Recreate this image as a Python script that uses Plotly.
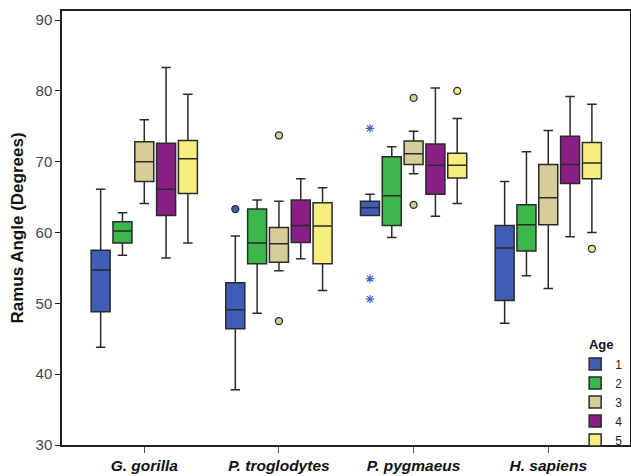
import plotly.graph_objects as go

species = ["G. gorilla", "P. troglodytes", "P. pygmaeus", "H. sapiens"]
ages = ["1", "2", "3", "4", "5"]
colors = ["#3F5CB6", "#3CB74B", "#D7CD98", "#891E85", "#F6EF7D"]

# per age: values per species (G. gorilla, P. troglodytes, P. pygmaeus, H. sapiens)
lowerfence = [[43.8, 37.8, 62.4, 47.2],
              [56.8, 48.6, 59.3, 53.9],
              [64.1, 54.6, 68.3, 52.1],
              [56.4, 56.3, 62.3, 59.4],
              [58.5, 51.8, 64.1, 60.0]]
q1 = [[48.8, 46.4, 62.4, 50.4],
      [58.5, 55.6, 61.0, 57.4],
      [67.2, 55.8, 69.6, 61.1],
      [62.4, 58.6, 65.4, 66.9],
      [65.5, 55.6, 67.7, 67.6]]
median = [[54.7, 49.1, 63.5, 57.8],
          [60.2, 58.5, 65.2, 61.1],
          [70.0, 58.4, 71.1, 64.9],
          [66.1, 61.0, 69.5, 69.6],
          [70.4, 60.9, 69.5, 69.8]]
q3 = [[57.5, 52.9, 64.4, 61.0],
      [61.5, 63.3, 70.7, 63.9],
      [72.8, 60.7, 72.9, 69.6],
      [72.6, 64.6, 72.5, 73.6],
      [73.0, 64.2, 71.2, 72.7]]
upperfence = [[66.1, 59.5, 65.4, 67.2],
              [62.8, 64.6, 72.1, 71.4],
              [75.9, 64.4, 74.3, 74.4],
              [83.3, 67.6, 80.4, 79.2],
              [79.5, 66.3, 76.1, 78.1]]

# outliers: (age index, species index, value)
outlier_age = [0, 2, 2, 2, 2, 4, 4]
outlier_species = [1, 1, 1, 2, 2, 2, 3]
outlier_value = [63.3, 73.7, 47.5, 79.0, 63.9, 80.0, 57.7]
# extreme values (stars)
extreme_age = [0, 0, 0]
extreme_species = [2, 2, 2]
extreme_value = [74.7, 53.5, 50.6]

step = 0.162
bw = 0.141

def pos(a, s):
    return s + (a - 2) * step

fig = go.Figure()
for a, name in enumerate(ages):
    fig.add_trace(go.Box(
        x=[pos(a, s) for s in range(len(species))],
        q1=q1[a], median=median[a], q3=q3[a],
        lowerfence=lowerfence[a], upperfence=upperfence[a],
        width=bw, whiskerwidth=0.5,
        fillcolor=colors[a], line=dict(color="#2a2a2a", width=1.5),
        boxpoints=False, name=name, legendgroup=name,
        hoverinfo="y",
    ))

for a, s, v in zip(outlier_age, outlier_species, outlier_value):
    fig.add_trace(go.Scatter(
        x=[pos(a, s)], y=[v], mode="markers", showlegend=False,
        marker=dict(symbol="circle", size=7, color=colors[a],
                    line=dict(color="#2a2a2a", width=1.3)),
    ))
for a, s, v in zip(extreme_age, extreme_species, extreme_value):
    fig.add_trace(go.Scatter(
        x=[pos(a, s)], y=[v], mode="markers", showlegend=False,
        marker=dict(symbol="asterisk-open", size=7, color="#4A62C4",
                    line=dict(color="#4A62C4", width=1.2)),
    ))

fig.update_layout(
    width=631, height=476,
    margin=dict(l=62, r=1, t=11, b=31, autoexpand=False),
    paper_bgcolor="white", plot_bgcolor="white",
    font=dict(family="Liberation Sans, Arial, sans-serif", color="#222"),
    legend=dict(
        title=dict(text="<b>Age</b>", side="top center", font=dict(size=13, color="#111")),
        x=0.995, y=0.259, xanchor="right", yanchor="top",
        bgcolor="rgba(0,0,0,0)", font=dict(size=12, color="#222"),
        itemwidth=30, tracegroupgap=0,
    ),
    showlegend=True,
)
fig.update_xaxes(
    range=[-0.611, 3.607], tickvals=list(range(len(species))),
    ticktext=["<b><i>%s</i></b>" % s for s in species],
    tickfont=dict(size=15.5, color="#111"),
    ticks="outside", ticklen=6, tickcolor="#555", tickwidth=1,
    showline=True, linecolor="#222", linewidth=1.5, mirror=True,
    showgrid=False, zeroline=False,
)
fig.update_yaxes(
    range=[30, 91.27], tickvals=[30, 40, 50, 60, 70, 80, 90],
    tickfont=dict(size=15, color="#444"),
    ticks="outside", ticklen=5, tickcolor="#222", tickwidth=1,
    showline=True, linecolor="#222", linewidth=1.5, mirror=True,
    showgrid=False, zeroline=False,
    title=dict(text="<b>Ramus Angle (Degrees)</b>", font=dict(size=17, color="#111"), standoff=8),
)

fig.write_html(
    "out.html",
    config={"displayModeBar": False},
    post_script="document.body.style.margin='0';document.body.style.overflow='hidden';",
)
